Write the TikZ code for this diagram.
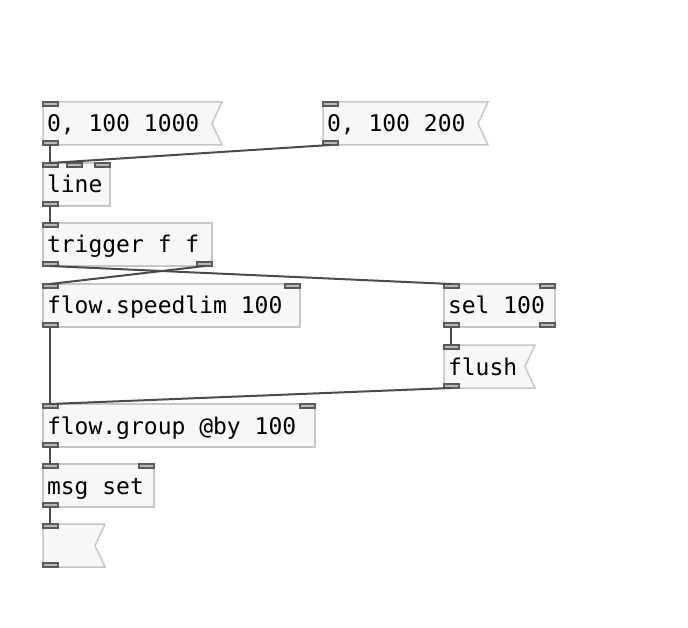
\documentclass[tikz,border=0pt]{standalone}
\usepackage{fontspec}
\setmonofont{DejaVu Sans Mono}
\usepackage{tikz}
\usetikzlibrary{backgrounds}
\definecolor{boxfill}{HTML}{F6F7F9}
\definecolor{boxline}{HTML}{C6C6C6}
\definecolor{wirecol}{HTML}{4A4A4A}
\definecolor{iocol}{HTML}{5A5A5A}
\definecolor{iofill}{HTML}{B8B8B8}
\newcommand\pdfont{\ttfamily\fontsize{23}{26}\selectfont}
\tikzset{
  pdobj/.style={anchor=north west, font=\pdfont,
    execute at begin node={\spaceskip=13.85pt\relax},
    inner xsep=4pt, inner ysep=0pt, outer sep=0pt, minimum height=43pt,
    text height=19pt, text depth=2pt,
    draw=boxline, fill=boxfill, line width=1.5pt},
  pdmsg/.style={pdobj, draw=none, fill=none},
  flag/.style={draw=boxline, fill=boxfill, line width=1.5pt, line join=miter},
  iolet/.style={draw=iocol, fill=iofill, line width=1.2pt},
  wire/.style={draw=wirecol, line width=2pt},
}
\begin{document}
\begin{tikzpicture}[x=1pt, y=-1pt]
\useasboundingbox (0, 0) rectangle (688, 628);
\node[pdmsg, text width=171pt] (msgA) at (43, 102) {0, 100 1000};
\node[pdmsg, text width=157pt] (msgB) at (323, 102) {0, 100 200};
\node[pdobj, text width=59pt] (line) at (43, 163) {line};
\node[pdobj, text width=161pt] (trig) at (43, 223) {trigger f f};
\node[pdobj, text width=249pt] (speed) at (43, 284) {flow.speedlim 100};
\node[pdobj, text width=103pt] (sel) at (444, 284) {sel 100};
\node[pdmsg, text width=83pt] (flush) at (444, 345) {flush};
\node[pdobj, text width=264pt] (group) at (43, 404) {flow.group @by 100};
\node[pdobj, text width=103pt] (setmsg) at (43, 464) {msg set};
\node[pdmsg, text width=54pt] (show) at (43, 524) {};
\begin{scope}[on background layer]
\foreach \m in {msgA, msgB, flush, show}
  \draw[flag] (\m.north west) -- (\m.north east) -- ([xshift=-10pt]\m.east)
    -- (\m.south east) -- (\m.south west) -- cycle;
\end{scope}
% inlets and outlets
\foreach \n in {msgA, msgB, line, trig, speed, sel, flush, group, setmsg, show}
  \draw[iolet] (\n.north west) rectangle ++(15, 4);
\foreach \n in {msgA, msgB, line, trig, speed, sel, flush, group, setmsg, show}
  \draw[iolet] (\n.south west) rectangle ++(15, -4);
\foreach \n in {speed, sel, group, setmsg}
  \draw[iolet] (\n.north east) rectangle ++(-15, 4);
\foreach \n in {trig, sel}
  \draw[iolet] (\n.south east) rectangle ++(-15, -4);
\draw[iolet] ([xshift=24pt]line.north west) rectangle ++(15, 4);
\draw[iolet] (line.north east) rectangle ++(-15, 4);
% connections
\draw[wire] ([xshift=7pt]msgA.south west) -- ([xshift=7pt]line.north west);
\draw[wire] ([xshift=7pt]msgB.south west) -- ([xshift=7pt]line.north west);
\draw[wire] ([xshift=7pt]line.south west) -- ([xshift=7pt]trig.north west);
\draw[wire] ([xshift=7pt]trig.south west) -- ([xshift=7pt]sel.north west);
\draw[wire] ([xshift=-7pt]trig.south east) -- ([xshift=7pt]speed.north west);
\draw[wire] ([xshift=7pt]speed.south west) -- ([xshift=7pt]group.north west);
\draw[wire] ([xshift=7pt]sel.south west) -- ([xshift=7pt]flush.north west);
\draw[wire] ([xshift=7pt]flush.south west) -- ([xshift=7pt]group.north west);
\draw[wire] ([xshift=7pt]group.south west) -- ([xshift=7pt]setmsg.north west);
\draw[wire] ([xshift=7pt]setmsg.south west) -- ([xshift=7pt]show.north west);
\end{tikzpicture}
\end{document}
